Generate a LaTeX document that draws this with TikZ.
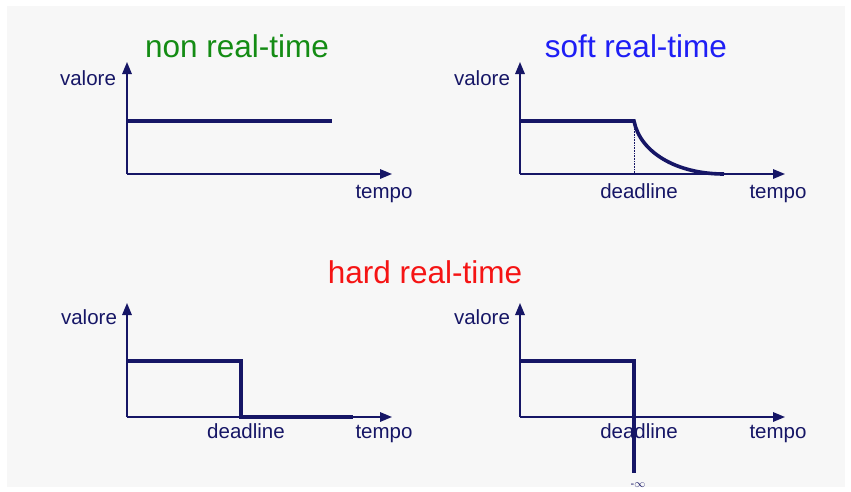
\documentclass[tikz,border=0pt]{standalone}
\usepackage{fontspec}
\setmainfont{Liberation Sans}
\usetikzlibrary{arrows.meta}
\definecolor{navy}{RGB}{22,22,102}
\definecolor{bggray}{RGB}{247,247,247}
\definecolor{nongreen}{RGB}{20,140,20}
\definecolor{softblue}{RGB}{30,30,245}
\definecolor{hardred}{RGB}{245,20,20}
\tikzstyle{axis}=[draw=navy,line width=1.6pt,-{Triangle[length=12pt,width=9.5pt]}]
\tikzstyle{value}=[draw=navy,line width=3.6pt,line join=miter]
\tikzstyle{lab}=[text=navy,font=\fontsize{20.5}{23}\selectfont,inner sep=0pt,anchor=base]
\tikzstyle{title}=[font=\fontsize{31.5}{35}\selectfont,inner sep=0pt,anchor=base]

\begin{document}
\begin{tikzpicture}[x=1pt,y=-1pt]
			\useasboundingbox (0,0) rectangle (851,491);
			\fill [bggray] (7,6) rectangle (845,487);
			
			% non real-time
			\node (t1) at (237,57) [title,text=nongreen] {non real-time};
			\coordinate (o1) at (127,174);
			\coordinate (y1) at (127,62);
			\coordinate (x1) at (392,174);
			\node (v1) at (88,85) [lab] {valore};
			\node (p1) at (384,198) [lab] {tempo};
			\draw [axis] (o1) -- (y1);
			\draw [axis] (o1) -- (x1);
			\draw [value] (127,121) -- (332,121);
			
			% soft real-time
			\node (t2) at (636,57) [title,text=softblue] {soft real-time};
			\coordinate (o2) at (520,174);
			\coordinate (y2) at (520,62);
			\coordinate (x2) at (785,174);
			\coordinate (d2) at (634,121);
			\node (v2) at (482,85) [lab] {valore};
			\node (p2) at (778,198) [lab] {tempo};
			\node (dl2) at (639,198) [lab] {deadline};
			\draw [navy,densely dotted,line width=0.6pt] (d2) -- (634,174);
			\draw [axis] (o2) -- (y2);
			\draw [axis] (o2) -- (x2);
			\draw [value] (520,121) -- (d2) .. controls (640,152) and (676,174) .. (724,174);
			
			% hard real-time
			\node (t3) at (425,283) [title,text=hardred] {hard real-time};
			\coordinate (o3) at (127,417);
			\coordinate (y3) at (127,303);
			\coordinate (x3) at (392,417);
			\node (v3) at (89,324) [lab] {valore};
			\node (p3) at (384,438) [lab] {tempo};
			\node (dl3) at (246,438) [lab] {deadline};
			\draw [axis] (o3) -- (y3);
			\draw [axis] (o3) -- (x3);
			\draw [value] (127,361) -- (241,361) -- (241,417) -- (353,417);
			
			\coordinate (o4) at (520,417);
			\coordinate (y4) at (520,303);
			\coordinate (x4) at (785,417);
			\node (v4) at (482,324) [lab] {valore};
			\node (p4) at (778,438) [lab] {tempo};
			\node (dl4) at (639,438) [lab] {deadline};
			\node (inf) at (638,485) [text=navy,font=\fontsize{11}{12}\selectfont,inner sep=0pt] {-$\infty$};
			\draw [axis] (o4) -- (y4);
			\draw [axis] (o4) -- (x4);
			\draw [value] (520,361) -- (634,361) -- (634,473);
		\end{tikzpicture}
\end{document}
